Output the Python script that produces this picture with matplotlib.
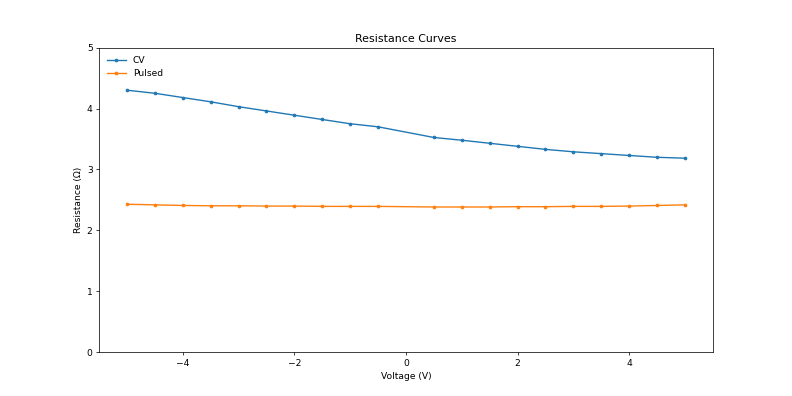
import matplotlib
matplotlib.use("Agg")
import matplotlib.pyplot as plt

voltage = [-5, -4.5, -4, -3.5, -3, -2.5, -2, -1.5, -1, -0.5,
           0.5, 1, 1.5, 2, 2.5, 3, 3.5, 4, 4.5, 5]
cv = [4.30, 4.25, 4.18, 4.11, 4.03, 3.96, 3.89, 3.82, 3.75, 3.70,
      3.525, 3.48, 3.43, 3.38, 3.33, 3.29, 3.26, 3.23, 3.20, 3.185]
pulsed = [2.43, 2.42, 2.41, 2.405, 2.405, 2.40, 2.40, 2.395, 2.395, 2.395,
          2.385, 2.385, 2.385, 2.39, 2.39, 2.395, 2.395, 2.40, 2.41, 2.42]

fig, ax = plt.subplots(figsize=(12, 6), dpi=66)
ax.plot(voltage, cv, marker='.', label='CV')
ax.plot(voltage, pulsed, marker='.', label='Pulsed')
ax.set_ylim(0, 5)
ax.set_title('Resistance Curves')
ax.set_xlabel('Voltage (V)')
ax.set_ylabel('Resistance (Ω)')
ax.legend(loc='upper left', frameon=False)
fig.savefig('out.png', dpi=66)
